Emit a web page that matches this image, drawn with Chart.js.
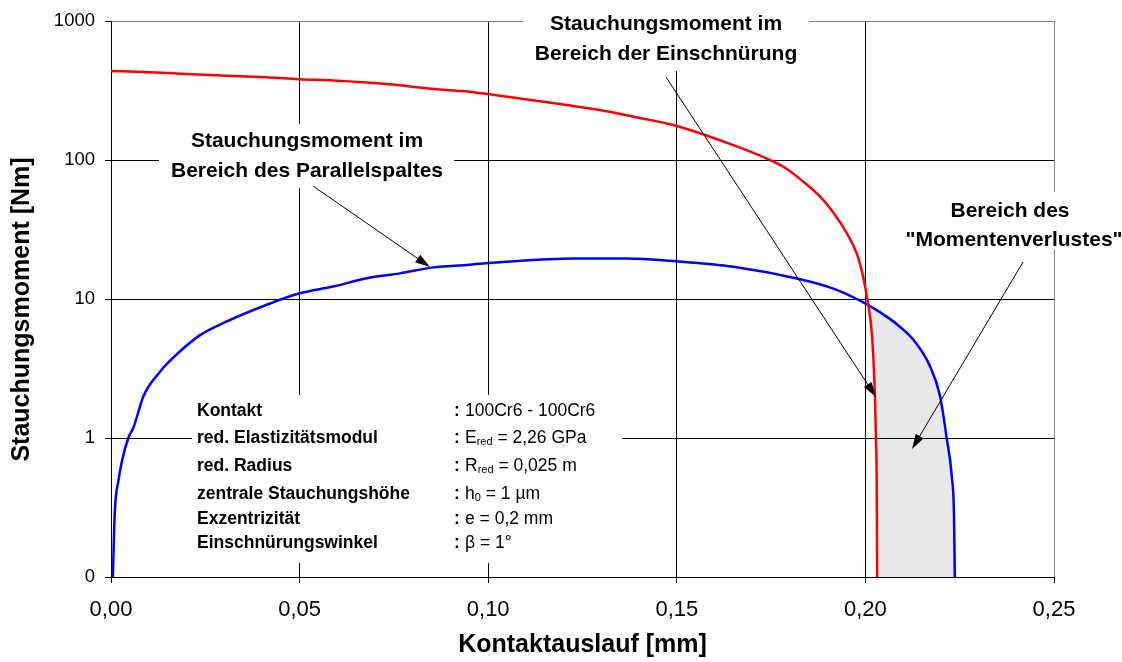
<!DOCTYPE html>
<html>
<head>
<meta charset="utf-8">
<script src="https://cdn.jsdelivr.net/npm/chart.js@4.4.1/dist/chart.umd.min.js"></script>
<style>
    body { margin: 0; background: #fff; }
    #wrap { width: 1122px; height: 662px; }
</style>
</head>
<body>
<div id="wrap"><canvas id="myChart"></canvas></div>
<script>
'use strict';
// Stauchungsmoment im Bereich der Einschnuerung (rot)
let redX = [0, 0.0086, 0.0174, 0.0262, 0.0395, 0.05, 0.0589, 0.0678, 0.0748, 0.0793, 0.0872, 0.096, 0.1031,
    0.1208, 0.1296, 0.1385, 0.15, 0.165, 0.1747, 0.179, 0.1835, 0.188, 0.1915, 0.195, 0.1977, 0.1994,
    0.2006, 0.2017, 0.2025, 0.2028, 0.203, 0.2031];
let redY = [437, 430, 420, 409, 396, 382, 374, 362, 350, 338, 322, 308, 290,
    249, 229, 205, 176, 128, 100, 87, 70, 54.5, 42, 30, 21.3, 14.5,
    9.6, 5.7, 2.1, 1.0, 0.45, 0.1];
// Stauchungsmoment im Bereich des Parallelspaltes (blau)
let blueX = [0.0005, 0.001, 0.002, 0.003, 0.0046, 0.006, 0.0086, 0.013, 0.0152, 0.0236, 0.0307, 0.0413, 0.05,
    0.0589, 0.0678, 0.0766, 0.0855, 0.0943, 0.1031, 0.1225, 0.1367, 0.15, 0.165, 0.1827, 0.1915, 0.2003,
    0.2065, 0.2092, 0.2127, 0.2171, 0.2198, 0.2215, 0.2229, 0.2235, 0.2237];
let blueY = [0.1, 0.29, 0.5, 0.7, 1.0, 1.2, 2.0, 3.0, 3.5, 5.5, 6.9, 9.1, 11.0,
    12.3, 14.1, 15.3, 16.9, 17.6, 18.4, 19.6, 19.6, 18.7, 17.1, 13.9, 11.9, 9.2,
    7.2, 6.3, 5.1, 3.3, 2.0, 1.02, 0.53, 0.27, 0.1];
let lossStartX = 0.2006;

let xTicks = [0, 0.05, 0.1, 0.15, 0.2, 0.25];
let yTicks = [0.1, 1, 10, 100, 1000];
let yTickLabels = ['0', '1', '10', '100', '1000'];

let paramLabels = ['Kontakt', 'red. Elastizitätsmodul', 'red. Radius', 'zentrale Stauchungshöhe',
    'Exzentrizität', 'Einschnürungswinkel'];
let paramValues = [['100Cr6 - 100Cr6'], ['E', '_red', ' = 2,26 GPa'], ['R', '_red', ' = 0,025 m'],
    ['h', '_0', ' = 1 µm'], ['e = 0,2 mm'], ['β = 1°']];

let font = '"Liberation Sans", Arial, sans-serif';

let redPoints = redX.map((x, i) => ({ x: x, y: redY[i] }));
let bluePoints = blueX.map((x, i) => ({ x: x, y: blueY[i] }));
let lossEdge = redPoints.filter(p => p.x >= lossStartX);
lossEdge.push({ x: blueX[blueX.length - 1], y: blueY[blueY.length - 1] });

function arrow(ctx, x1, y1, x2, y2) {
    let a = Math.atan2(y2 - y1, x2 - x1);
    let len = 15, w = 4.5;
    ctx.beginPath();
    ctx.moveTo(x1, y1);
    ctx.lineTo(x2 - Math.cos(a) * 8, y2 - Math.sin(a) * 8);
    ctx.stroke();
    ctx.beginPath();
    ctx.moveTo(x2, y2);
    ctx.lineTo(x2 - len * Math.cos(a) + w * Math.sin(a), y2 - len * Math.sin(a) - w * Math.cos(a));
    ctx.lineTo(x2 - len * Math.cos(a) - w * Math.sin(a), y2 - len * Math.sin(a) + w * Math.cos(a));
    ctx.closePath();
    ctx.fill();
}

let notes = {
    id: 'notes',
    afterDraw(chart) {
        let ctx = chart.ctx;
        ctx.save();
        // white backgrounds of the text boxes
        ctx.fillStyle = '#fff';
        ctx.fillRect(159, 124, 295, 64);
        ctx.fillRect(523, 4, 286, 67);
        ctx.fillRect(905, 192, 217, 57);
        ctx.fillRect(192, 395, 430, 168);

        ctx.fillStyle = '#000';
        ctx.textBaseline = 'middle';
        ctx.textAlign = 'center';
        ctx.font = 'bold 21px ' + font;
        ctx.fillText('Stauchungsmoment im', 307, 141);
        ctx.fillText('Bereich des Parallelspaltes', 307, 171);
        ctx.fillText('Stauchungsmoment im', 666, 24);
        ctx.fillText('Bereich der Einschnürung', 666, 54);
        ctx.fillText('Bereich des', 1010, 211);
        ctx.fillText('"Momentenverlustes"', 1014, 240);

        // parameter block
        let rows = [411, 438, 466, 494, 519, 543];
        ctx.textAlign = 'left';
        for (let i = 0; i < paramLabels.length; i++) {
            ctx.font = 'bold 17.5px ' + font;
            ctx.fillText(paramLabels[i], 197, rows[i]);
            ctx.fillText(':', 454, rows[i]);
            let x = 465;
            for (let part of paramValues[i]) {
                if (part.startsWith('_')) {
                    ctx.font = '11px ' + font;
                    ctx.fillText(part.slice(1), x, rows[i] + 4);
                    x += ctx.measureText(part.slice(1)).width;
                } else {
                    ctx.font = '17.5px ' + font;
                    ctx.fillText(part, x, rows[i]);
                    x += ctx.measureText(part).width;
                }
            }
        }

        ctx.strokeStyle = '#000';
        ctx.lineWidth = 1;
        arrow(ctx, 313, 186, 430, 267);
        arrow(ctx, 666, 77, 876, 397);
        arrow(ctx, 1023, 262, 912, 449);
        ctx.restore();
    }
};

let ctx = document.getElementById('myChart').getContext('2d');
let myChart = new Chart(ctx, {
    type: 'line',
    data: {
        datasets: [{
            label: 'Einschnürung',
            data: redPoints,
            borderColor: '#ff0000',
            borderWidth: 2.5,
            pointRadius: 0,
            cubicInterpolationMode: 'monotone',
            fill: false
        },
        {
            label: 'Parallelspalt',
            data: bluePoints,
            borderColor: '#0000ff',
            backgroundColor: 'rgba(0, 0, 0, 0.09)',
            borderWidth: 2.5,
            pointRadius: 0,
            cubicInterpolationMode: 'monotone',
            fill: 2
        },
        {
            label: 'Momentenverlust',
            data: lossEdge,
            borderWidth: 0,
            borderColor: 'rgba(0, 0, 0, 0)',
            pointRadius: 0,
            cubicInterpolationMode: 'monotone',
            fill: false
        }]
    },
    options: {
        responsive: true,
        maintainAspectRatio: false,
        animation: false,
        devicePixelRatio: 1,
        layout: { padding: { left: 0, top: 21, right: 68, bottom: 0 } },
        plugins: {
            legend: { display: false },
            tooltip: { enabled: false }
        },
        scales: {
            x: {
                type: 'linear',
                min: 0,
                max: 0.25,
                afterBuildTicks: scale => { scale.ticks = xTicks.map(v => ({ value: v })); },
                afterFit: scale => { scale.height = 85; },
                ticks: {
                    color: '#000',
                    padding: 14,
                    maxRotation: 0,
                    autoSkip: false,
                    font: { family: font, size: 22 },
                    callback: value => value.toFixed(2).replace('.', ',')
                },
                grid: {
                    color: c => (c.tick && c.tick.value === 0.25) ? '#808080' : '#000',
                    tickColor: '#000',
                    tickLength: 6,
                    lineWidth: 1
                },
                border: { color: '#000' },
                title: {
                    display: true,
                    text: 'Kontaktauslauf [mm]',
                    color: '#000',
                    font: { family: font, size: 25, weight: 'bold' },
                    padding: { top: 0, bottom: 2 }
                }
            },
            y: {
                type: 'logarithmic',
                min: 0.1,
                max: 1000,
                afterBuildTicks: scale => { scale.ticks = yTicks.map(v => ({ value: v })); },
                afterFit: scale => { scale.width = 111; },
                ticks: {
                    color: '#000',
                    padding: 10,
                    autoSkip: false,
                    font: { family: font, size: 18.5 },
                    callback: (value, index) => yTickLabels[index]
                },
                grid: {
                    color: c => (c.tick && c.tick.value === 1000) ? '#808080' : '#000',
                    tickColor: '#000',
                    tickLength: 6,
                    lineWidth: 1
                },
                border: { color: '#000' },
                title: {
                    display: true,
                    text: 'Stauchungsmoment [Nm]   ',
                    color: '#000',
                    font: { family: font, size: 25, weight: 'bold' },
                    padding: { top: 7, bottom: 0 }
                }
            }
        }
    },
    plugins: [notes]
});
</script>
</body>
</html>
